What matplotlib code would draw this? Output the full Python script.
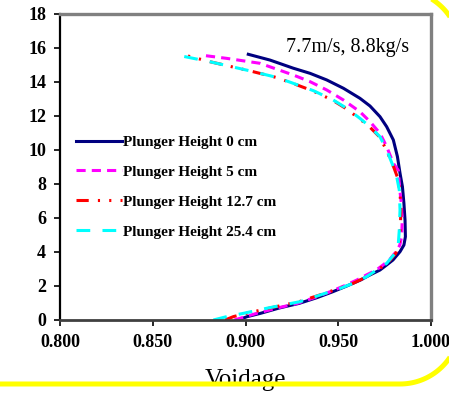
import matplotlib
matplotlib.use('Agg')
import numpy as np
import matplotlib.pyplot as plt

plt.rcParams['font.family'] = ['Liberation Serif', 'DejaVu Serif']

# height (y) and voidage (x) for each plunger height
h0 = [0, 0.2, 0.39, 0.7, 0.98, 1.31, 1.66, 2.0, 2.35, 2.65, 2.94, 3.24, 3.53, 4.02, 4.41, 4.9, 5.88,
      6.86, 7.84, 8.63, 9.61, 10.59, 11.37, 11.96, 12.59, 13.04, 13.63, 14.12, 14.51, 14.81, 15.29, 15.63]
v0 = [0.896, 0.901, 0.908, 0.918, 0.929, 0.9384, 0.947, 0.9546, 0.962, 0.9671, 0.9725, 0.9761, 0.9795,
      0.9833, 0.9854, 0.9862, 0.986, 0.9854, 0.9846, 0.9833, 0.9819, 0.9797, 0.9761, 0.9725, 0.9671,
      0.9617, 0.9528, 0.9438, 0.9348, 0.9258, 0.9132, 0.9015]

h5 = [0, 0.2, 0.39, 0.7, 0.98, 1.31, 1.66, 2.0, 2.35, 2.65, 2.94, 3.24, 3.53, 4.02, 4.41, 4.9, 5.88,
      6.86, 7.84, 8.8, 9.22, 10.2, 10.98, 11.67, 12.25, 12.94, 13.53, 14.02, 14.41, 15.1, 15.39, 15.59]
v5 = [0.894, 0.900, 0.906, 0.917, 0.928, 0.937, 0.9455, 0.953, 0.960, 0.9652, 0.9705, 0.9742, 0.9775,
      0.9812, 0.9832, 0.9842, 0.9845, 0.984, 0.983, 0.9824, 0.9797, 0.9761, 0.9725, 0.9671, 0.9617,
      0.9528, 0.9438, 0.9348, 0.9258, 0.9078, 0.8899, 0.8755]

h12 = [0, 0.2, 0.39, 0.69, 1.08, 1.47, 1.86, 2.16, 2.55, 2.94, 3.33, 3.92, 4.51, 5.29, 6.47, 7.65, 8.43,
       9.02, 10.0, 10.78, 11.37, 11.86, 12.45, 12.94, 13.49, 13.92, 14.27, 14.61, 15.19, 15.65]
v12 = [0.889, 0.8935, 0.9005, 0.9125, 0.929, 0.940, 0.9505, 0.958, 0.9655, 0.971, 0.9765, 0.981, 0.9828,
       0.9834, 0.9838, 0.9832, 0.9818, 0.9798, 0.976, 0.9722, 0.9668, 0.9612, 0.954, 0.9468, 0.936,
       0.9255, 0.9165, 0.904, 0.881, 0.8647]

h25 = [0, 0.2, 0.39, 0.69, 1.08, 1.47, 1.86, 2.16, 2.55, 2.94, 3.33, 3.92, 4.51, 5.29, 6.47, 7.65, 8.43,
       9.02, 10.0, 10.78, 11.37, 11.86, 12.45, 12.94, 13.49, 13.92, 14.27, 14.61, 15.19, 15.59]
v25 = [0.8827, 0.8899, 0.8988, 0.9114, 0.9294, 0.9402, 0.951, 0.9581, 0.9653, 0.9707, 0.9761, 0.9806,
       0.9824, 0.9829, 0.9833, 0.9829, 0.9815, 0.9797, 0.9761, 0.9725, 0.9671, 0.9617, 0.9546, 0.9473,
       0.9366, 0.9258, 0.9168, 0.9042, 0.8809, 0.8629]

labels = ["Plunger Height 0 cm", "Plunger Height 5 cm", "Plunger Height 12.7 cm", "Plunger Height 25.4 cm"]
xticks = [0.800, 0.850, 0.900, 0.950, 1.000]
yticks = [0, 2, 4, 6, 8, 10, 12, 14, 16, 18]

fig = plt.figure(figsize=(4.49, 3.93), dpi=100)
ax = fig.add_axes([60/449, 1-320/393, 371/449, 306/393])

lw = 2.2
ax.plot(v0, h0, color='#000080', lw=lw, label=labels[0], solid_joinstyle='round')
ax.plot(v5, h5, color='#FF00FF', lw=lw, dashes=(3, 2), label=labels[1])
ax.plot(v12, h12, color='#FF0000', lw=lw, dashes=(4, 3, 0.7, 3, 0.7, 3), label=labels[2])
ax.plot(v25, h25, color='#00FFFF', lw=lw, dashes=(4.5, 4), label=labels[3])

ax.set_xlim(0.8, 1.0)
ax.set_ylim(0, 18)
ax.set_xticks(xticks)
ax.set_xticklabels(['%.3f' % x for x in xticks])
ax.set_yticks(yticks)
ax.tick_params(direction='out', length=4, width=1.2, labelsize=13, pad=6)
for lab in ax.get_xticklabels() + ax.get_yticklabels():
    lab.set_fontweight('bold')

ax.spines['left'].set_color('black')
ax.spines['left'].set_linewidth(1.6)
ax.spines['bottom'].set_color('#404040')
ax.spines['bottom'].set_linewidth(2.0)
for s in ['top', 'right']:
    ax.spines[s].set_color('#808080')
    ax.spines[s].set_linewidth(2.4)

ax.set_xlabel('Voidage', fontsize=18, labelpad=13)

ax.text(0.776, 0.889, '7.7m/s, 8.8kg/s', transform=ax.transAxes, fontsize=14.5,
        ha='center', va='center')

leg = ax.legend(loc='upper left', bbox_to_anchor=(0.043, 0.604), frameon=False,
                handlelength=3.0, handletextpad=0.1, labelspacing=1.06,
                borderpad=0, borderaxespad=0, prop={'weight': 'bold', 'size': 11})

# yellow rounded frame (only the visible corner arcs + bottom edge), in pixel units
over = fig.add_axes([0, 0, 1, 1], zorder=10)
over.set_xlim(0, 449)
over.set_ylim(393, 0)
over.axis('off')
over.patch.set_alpha(0)
r = 60
t = np.linspace(0, np.pi / 2, 40)
cx, top, bot = 400, -10, 384
fx = np.concatenate([[-10], cx + r * np.sin(t), cx + r * np.cos(t)])
fy = np.concatenate([[bot], bot - r + r * np.cos(t), top + r - r * np.sin(t)])
over.plot(fx, fy, color='#FFFF00', lw=3.6, solid_capstyle='butt')

fig.savefig('out.png', dpi=100, bbox_inches=fig.bbox_inches)
